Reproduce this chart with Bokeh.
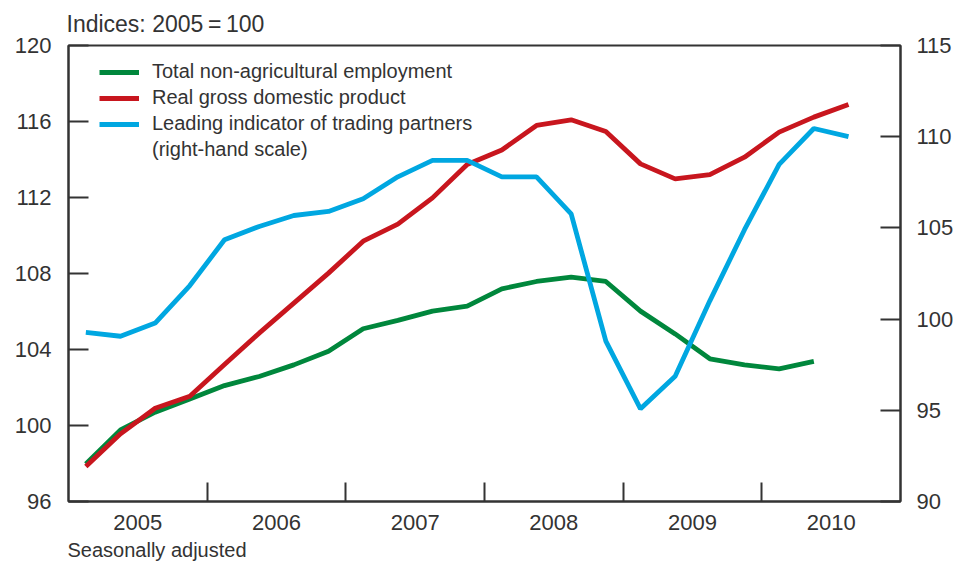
from bokeh.plotting import figure
from bokeh.models import Range1d, LinearAxis, FixedTicker, Title, Legend, LegendItem
from bokeh.embed import file_html
from bokeh.resources import INLINE

# ---------------- data ----------------
quarters = ["2005Q1", "2005Q2", "2005Q3", "2005Q4",
            "2006Q1", "2006Q2", "2006Q3", "2006Q4",
            "2007Q1", "2007Q2", "2007Q3", "2007Q4",
            "2008Q1", "2008Q2", "2008Q3", "2008Q4",
            "2009Q1", "2009Q2", "2009Q3", "2009Q4",
            "2010Q1", "2010Q2", "2010Q3"]

employment = [97.98, 99.77, 100.70, 101.40, 102.10, 102.58, 103.19, 103.91,
              105.09, 105.53, 106.02, 106.28, 107.19, 107.58, 107.81, 107.58,
              106.02, 104.82, 103.51, 103.19, 102.98, 103.37]

gdp = [97.84, 99.56, 100.91, 101.54, 103.21, 104.86, 106.44, 108.02,
       109.70, 110.60, 111.98, 113.74, 114.50, 115.79, 116.09, 115.47,
       113.77, 112.98, 113.20, 114.12, 115.44, 116.23, 116.89]

leading = [99.27, 99.06, 99.78, 101.84, 104.35, 105.08, 105.68, 105.90,
           106.60, 107.80, 108.70, 108.70, 107.80, 107.80, 105.77, 98.79,
           95.08, 96.87, 101.00, 104.90, 108.48, 110.45, 110.00]

years = ["2005", "2006", "2007", "2008", "2009", "2010"]
left_ticks = [96, 100, 104, 108, 112, 116, 120]
right_ticks = [90, 95, 100, 105, 110, 115]

series_names = ["Total non-agricultural employment",
                "Real gross domestic product",
                "Leading indicator of trading partners",
                "(right-hand scale)"]

title_text = "Indices: 2005\u2009=\u2009100"
note_text = "Seasonally adjusted"

# quarter centres as fractional years
def qpos(s):
    return int(s[:4]) + (int(s[5]) - 0.5) / 4.0

x_all = [qpos(s) for s in quarters]

# ---------------- styling ----------------
FONT = "Liberation Sans"
TXT = "#333333"
AX = "#333333"
GREEN = "#00873C"
RED = "#C8161E"
BLUE = "#00A7E1"
LW = 4.8

p = figure(width=956, height=565, output_backend="svg", toolbar_location=None,
           x_range=Range1d(2005, 2011), y_range=Range1d(96, 120),
           min_border_left=68, min_border_right=56, min_border_top=45,
           min_border_bottom=64)
p.extra_y_ranges = {"right": Range1d(90, 115)}

p.background_fill_color = "white"
p.border_fill_color = "white"
p.outline_line_color = AX
p.outline_line_width = 2
p.xgrid.visible = False
p.ygrid.visible = False

# title (top-left note)
p.title.text = title_text
p.title.align = "left"
p.title.offset = -2
p.title.standoff = 17
p.title.text_font = FONT
p.title.text_font_size = "23px"
p.title.text_font_style = "normal"
p.title.text_color = TXT

# bottom axis: labels at year centres, ticks at year boundaries
xa = p.xaxis[0]
centres = [int(y) + 0.5 for y in years]
xa.ticker = FixedTicker(ticks=centres, minor_ticks=[int(y) for y in years[1:]])
xa.major_label_overrides = {c: y for c, y in zip(centres, years)}
xa.major_tick_line_color = None
xa.major_tick_in = 0
xa.major_tick_out = 0
xa.minor_tick_in = 19
xa.minor_tick_out = 0
xa.minor_tick_line_color = AX
xa.minor_tick_line_width = 2
xa.axis_line_color = AX
xa.axis_line_width = 2
xa.major_label_text_font = FONT
xa.major_label_text_font_size = "22px"
xa.major_label_text_color = TXT
xa.major_label_standoff = 13

# left axis
ya = p.yaxis[0]
ya.ticker = FixedTicker(ticks=left_ticks)
ya.major_tick_in = 20
ya.major_tick_out = 0
ya.major_tick_line_color = AX
ya.major_tick_line_width = 2
ya.minor_tick_line_color = None
ya.axis_line_color = AX
ya.axis_line_width = 2
ya.major_label_text_font = FONT
ya.major_label_text_font_size = "22px"
ya.major_label_text_color = TXT
ya.major_label_standoff = 17

# right axis
ra = LinearAxis(y_range_name="right", ticker=FixedTicker(ticks=right_ticks))
ra.major_tick_in = 20
ra.major_tick_out = 0
ra.major_tick_line_color = AX
ra.major_tick_line_width = 2
ra.minor_tick_line_color = None
ra.axis_line_color = AX
ra.axis_line_width = 2
ra.major_label_text_font = FONT
ra.major_label_text_font_size = "22px"
ra.major_label_text_color = TXT
ra.major_label_standoff = 16
p.add_layout(ra, "right")

# footnote below the x axis
note = Title(text=note_text, align="left", offset=-1, standoff=9,
             text_font=FONT, text_font_size="20px", text_font_style="normal",
             text_color=TXT)
p.add_layout(note, "below")

# lines
r_emp = p.line(x_all[:len(employment)], employment, line_color=GREEN, line_width=LW)
r_gdp = p.line(x_all[:len(gdp)], gdp, line_color=RED, line_width=LW)
r_lead = p.line(x_all[:len(leading)], leading, line_color=BLUE, line_width=LW,
                y_range_name="right")
r_dummy = p.line([], [], line_color=BLUE, line_alpha=0, line_width=LW)

legend = Legend(items=[LegendItem(label=series_names[0], renderers=[r_emp]),
                       LegendItem(label=series_names[1], renderers=[r_gdp]),
                       LegendItem(label=series_names[2], renderers=[r_lead]),
                       LegendItem(label=series_names[3], renderers=[r_dummy])],
                location=(31, 340), orientation="vertical",
                padding=0, margin=0, spacing=3,
                glyph_width=40, glyph_height=22, label_height=22,
                label_standoff=13,
                label_text_font=FONT, label_text_font_size="20px",
                label_text_color=TXT,
                border_line_alpha=0, background_fill_alpha=0)
p.add_layout(legend, "center")

open("out.html", "w").write(file_html(p, INLINE))
